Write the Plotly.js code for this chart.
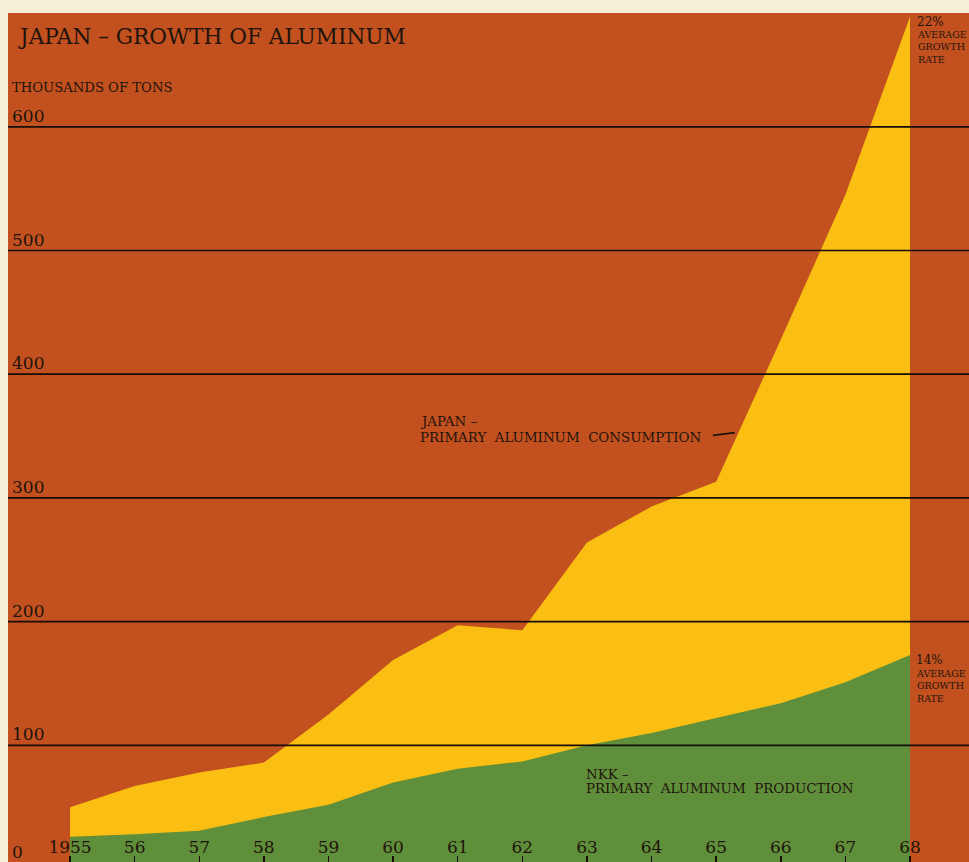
<!DOCTYPE html>
<html><head><meta charset="utf-8">
<script src="https://cdn.plot.ly/plotly-3.0.1.min.js"></script>
<style>html,body{margin:0;padding:0;background:#f5f0d6;overflow:hidden}</style>
</head><body><div id="chart" style="width:969px;height:862px"></div>
<script>
const years = [1955,1956,1957,1958,1959,1960,1961,1962,1963,1964,1965,1966,1967,1968];
const yearLabels = ['1955','56','57','58','59','60','61','62','63','64','65','66','67','68'];
const consumption = [50,67,78,86,125,169,197,193,264,293,313,428,545,689];
const production = [26,28,31,42,52,70,81,87,100,110,122,134,151,173];
const gridValues = [100,200,300,400,500,600];
const gridLabels = ['100','200','300','400','500','600'];
const titleText = 'JAPAN – GROWTH OF ALUMINUM';
const unitText = 'THOUSANDS OF TONS';
const consLines = ['JAPAN –', 'PRIMARY\u00a0\u00a0ALUMINUM\u00a0\u00a0CONSUMPTION'];
const prodLines = ['NKK –', 'PRIMARY\u00a0\u00a0ALUMINUM\u00a0\u00a0PRODUCTION'];
const rateText = 'AVERAGE<br>GROWTH<br>RATE';
const consRate = '22%';
const prodRate = '14%';

const FONT = 'DejaVu Serif';
const INK = '#1f140c';
const ORANGE = '#c2511f';
const YELLOW = '#fbbf13';
const GREEN = '#5f8f3b';

const traces = [
  {x: years, y: consumption, type: 'scatter', mode: 'none', fill: 'tozeroy', fillcolor: YELLOW, hoverinfo: 'skip'},
  {x: years, y: production, type: 'scatter', mode: 'none', fill: 'tozeroy', fillcolor: GREEN, hoverinfo: 'skip'}
];

const shapes = gridValues.map(v => ({
  type: 'line', xref: 'paper', x0: 0, x1: 1, yref: 'y', y0: v, y1: v,
  line: {color: '#150d08', width: 1.7}, layer: 'above'
}));
// leader line from the consumption label to its area
shapes.push({type: 'line', xref: 'x', yref: 'y', x0: 1964.95, y0: 350.5, x1: 1965.29, y1: 352.8,
  line: {color: INK, width: 1.8}, layer: 'above'});

function txt(x, y, text, size, extra) {
  return Object.assign({xref: 'x', yref: 'y', x: x, y: y, xanchor: 'left', yanchor: 'middle', align: 'left',
    text: text, showarrow: false, font: {family: FONT, size: size, color: INK}}, extra || {});
}

const annotations = [
  {xref: 'paper', yref: 'paper', x: 0, y: 1, xanchor: 'left', yanchor: 'middle', xshift: 8, yshift: -23,
   text: titleText, showarrow: false, font: {family: FONT, size: 21.6, color: INK}},
  {xref: 'paper', yref: 'paper', x: 0, y: 1, xanchor: 'left', yanchor: 'middle', xshift: 2, yshift: -74,
   text: unitText, showarrow: false, font: {family: FONT, size: 13.2, color: INK}},
  {xref: 'paper', yref: 'paper', x: 0, y: 0, xanchor: 'left', yanchor: 'middle', xshift: 2, yshift: 10,
   text: '0', showarrow: false, font: {family: FONT, size: 17, color: INK}},
  txt(1960.39, 361.8, consLines[0], 13.4),
  txt(1960.39, 349.2, consLines[1], 13.4),
  txt(1962.96, 76.8, prodLines[0], 13.4),
  txt(1962.96, 65.1, prodLines[1], 13.4),
  txt(1968.077, 684.7, consRate, 12),
  txt(1968.077, 664.5, rateText, 9.5),
  txt(1968.06, 169.0, prodRate, 12),
  txt(1968.06, 148.3, rateText, 9.5)
];
gridValues.forEach((v, i) => annotations.push({
  xref: 'paper', yref: 'y', x: 0, y: v, xanchor: 'left', yanchor: 'middle', xshift: 2, yshift: 11,
  text: gridLabels[i], showarrow: false, font: {family: FONT, size: 17, color: INK}
}));

const layout = {
  width: 969, height: 862,
  margin: {l: 8, r: 0, t: 13, b: 0, pad: 0},
  paper_bgcolor: '#f5f0d6', plot_bgcolor: ORANGE,
  showlegend: false,
  xaxis: {range: [1954.04, 1968.913], tickvals: years, ticktext: yearLabels,
    ticks: 'inside', ticklen: 6, tickwidth: 1.5, tickcolor: '#150d08',
    ticklabelposition: 'inside', tickfont: {family: FONT, size: 17, color: INK},
    showgrid: false, zeroline: false, showline: false, fixedrange: true},
  yaxis: {range: [5.66, 692], showgrid: false, zeroline: false, showticklabels: false, ticks: '', fixedrange: true},
  shapes: shapes,
  annotations: annotations
};

Plotly.newPlot('chart', traces, layout, {displayModeBar: false, staticPlot: true});
</script></body></html>
